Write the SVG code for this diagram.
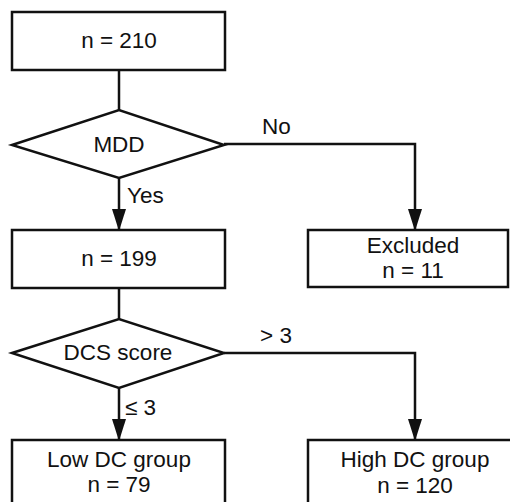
<svg xmlns="http://www.w3.org/2000/svg" width="510" height="502" viewBox="0 0 510 502">
<defs>
<style>
.box{fill:#fff;stroke:#111;stroke-width:2.5}
.ln{fill:none;stroke:#111;stroke-width:2.5}
text{font-family:"Liberation Sans",Arial,sans-serif;font-size:22.5px;fill:#111}
.c{text-anchor:middle}
</style>
<marker id="ah" markerUnits="userSpaceOnUse" markerWidth="22" markerHeight="14" refX="21" refY="7" viewBox="0 0 22 14" orient="auto" overflow="visible">
<path d="M0,0 L22,7 L0,14 Z" fill="#111"/>
</marker>
</defs>
<rect width="510" height="502" fill="#fff"/>
<g id="connectors">
<path class="ln" d="M119,70 V110"/>
<path class="ln" d="M119,178 V230" marker-end="url(#ah)"/>
<path class="ln" d="M224,144 H415 V230" marker-end="url(#ah)"/>
<path class="ln" d="M119,288 V319"/>
<path class="ln" d="M119,388 V440" marker-end="url(#ah)"/>
<path class="ln" d="M224,353 H415 V440" marker-end="url(#ah)"/>
<text x="262" y="134">No</text>
<text x="127" y="203">Yes</text>
<text x="260" y="343">&gt; 3</text>
<text x="125" y="415">≤ 3</text>
</g>
<g id="n210">
<rect class="box" x="12" y="12" width="213" height="58"/>
<text class="c" x="119" y="48">n = 210</text>
</g>
<g id="mdd">
<polygon class="box" points="12,145 119,110 224,145 119,178"/>
<text class="c" x="119" y="152">MDD</text>
</g>
<g id="n199">
<rect class="box" x="12" y="230" width="213" height="58"/>
<text class="c" x="119" y="266">n = 199</text>
</g>
<g id="excluded">
<rect class="box" x="308" y="230" width="200" height="57"/>
<text class="c" x="413" y="253">Excluded</text>
<text class="c" x="413" y="278">n = 11</text>
</g>
<g id="dcs">
<polygon class="box" points="12,353 119,319 224,353 119,388"/>
<text class="c" x="118" y="360">DCS score</text>
</g>
<g id="low">
<rect class="box" x="12" y="440" width="213" height="70"/>
<text class="c" x="119" y="467">Low DC group</text>
<text class="c" x="119" y="492">n = 79</text>
</g>
<g id="high">
<rect class="box" x="308" y="440" width="210" height="70"/>
<text class="c" x="415" y="467">High DC group</text>
<text class="c" x="415" y="493">n = 120</text>
</g>
</svg>
